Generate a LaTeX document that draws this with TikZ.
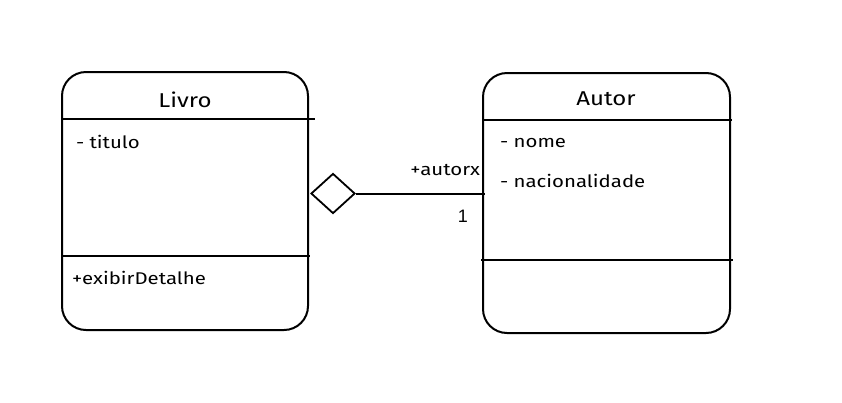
\documentclass[tikz,border=0pt]{standalone}
\usepackage{fontspec}
\setmainfont{Fira Sans}
\newfontfamily\hand[FakeStretch=1.2]{Fira Sans}
\newfontfamily\plainsans{Liberation Sans}
\usetikzlibrary{shapes.geometric}
\begin{document}
\begin{tikzpicture}[x=1pt,y=-1pt,line width=2pt,
  classbox/.style={draw,rounded corners=24pt,minimum width=246pt,minimum height=258pt,inner sep=0pt},
  title/.style={font=\hand\fontsize{20}{22}\selectfont,inner sep=0pt},
  member/.style={font=\hand\fontsize{17}{19}\selectfont,anchor=west,inner sep=0pt},
  agg/.style={draw,diamond,minimum width=44pt,minimum height=40pt,inner sep=0pt,line width=1.8pt}]
\useasboundingbox (0,0) rectangle (842,402);
\node[classbox] (livro) at (185,201) {};
\node[classbox,minimum width=247pt,minimum height=260pt] (autor) at (606.5,203) {};
% separators
\draw (63,119) -- (315,119);
\draw (62,256) -- (310,256);
\draw (482,120) -- (732,120);
\draw (481,260) -- (733,260);
% texts
\node[title] (tl) at (185,100) {Livro};
\node[member] (t1) at (75,142) {- titulo};
\node[member] (t2) at (71,278) {+exibirDetalhe};
\node[title] (ta) at (606,99) {Autor};
\node[member] (a1) at (499,143) {- nome};
\node[member] (a2) at (499,181) {- nacionalidade};
% aggregation
\node[agg] (dia) at (333,193.5) {};
\coordinate (end) at (485,193.5);
\draw (dia.east) -- (end);
\node[member,anchor=east] (role) at (481,170) {+autorx};
\node[anchor=east,inner sep=0pt,font=\plainsans\fontsize{18}{20}\selectfont] (mult) at (469,216) {1};
\end{tikzpicture}
\end{document}
